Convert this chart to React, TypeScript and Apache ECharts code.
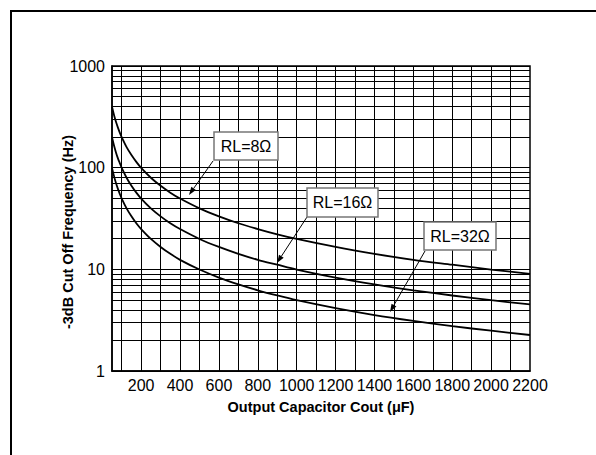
import React, { useEffect, useRef } from "react";
import * as echarts from "echarts";

const capacitance = [50, 60, 70, 80, 90, 100, 125, 150, 175, 200, 250, 300, 350, 400, 500, 600, 700, 800, 900, 1000, 1200, 1400, 1600, 1800, 2000, 2200];
const rl8 = [398, 332, 284, 249, 221, 199, 159, 133, 114, 99.5, 79.6, 66.3, 56.8, 49.7, 39.8, 33.2, 28.4, 24.9, 22.1, 19.9, 16.6, 14.2, 12.4, 11.1, 9.95, 9.04];
const rl16 = [199, 166, 142, 124, 111, 99.5, 79.6, 66.3, 56.8, 49.7, 39.8, 33.2, 28.4, 24.9, 19.9, 16.6, 14.2, 12.4, 11.1, 9.95, 8.29, 7.11, 6.22, 5.53, 4.97, 4.52];
const rl32 = [99.5, 83, 71, 62.2, 55.3, 49.7, 39.8, 33.2, 28.4, 24.9, 19.9, 16.6, 14.2, 12.4, 9.95, 8.29, 7.11, 6.22, 5.53, 4.97, 4.15, 3.55, 3.11, 2.76, 2.49, 2.26];
const xLabelValues = [200, 400, 600, 800, 1000, 1200, 1400, 1600, 1800, 2000, 2200];
const xGridValues = [100, 200, 300, 400, 500, 600, 700, 800, 900, 1000, 1100, 1200, 1300, 1400, 1500, 1600, 1700, 1800, 1900, 2000, 2100];
const yMinorValues = [2, 3, 4, 5, 6, 7, 8, 9, 20, 30, 40, 50, 60, 70, 80, 90, 200, 300, 400, 500, 600, 700, 800, 900];
const curveLabels = ["RL=8Ω", "RL=16Ω", "RL=32Ω"];
const xTitle = "Output Capacitor Cout (μF)";
const yTitle = "-3dB Cut Off Frequency (Hz)";

const FONT = "'Liberation Sans', Arial, sans-serif";

function arrow(x1: number, y1: number, x2: number, y2: number) {
  const dx = x2 - x1, dy = y2 - y1;
  const L = Math.hypot(dx, dy);
  const ux = dx / L, uy = dy / L;
  const hl = 8, hw = 2.8;
  const bx = x2 - ux * hl, by = y2 - uy * hl;
  const nx = -uy, ny = ux;
  return [
    { type: "line", shape: { x1, y1, x2: bx, y2: by }, style: { stroke: "#000", lineWidth: 1 }, z: 100 },
    {
      type: "polygon",
      shape: { points: [[x2, y2], [bx + nx * hw, by + ny * hw], [bx - nx * hw, by - ny * hw]] },
      style: { fill: "#000" },
      z: 100,
    },
  ];
}

function labelBox(text: string, x: number, y: number, w: number, h: number) {
  return [
    { type: "rect", shape: { x, y, width: w, height: h }, style: { fill: "#fff", stroke: "#777", lineWidth: 1.5 }, z: 100 },
    {
      type: "text",
      x: x + w / 2,
      y: y + h / 2,
      style: { text, fill: "#000", font: `16px ${FONT}`, align: "center", verticalAlign: "middle" },
      z: 101,
    },
  ];
}

export default function App() {
  const ref = useRef<HTMLDivElement>(null);
  useEffect(() => {
    if (!ref.current) return;
    const chart = echarts.init(ref.current, undefined, { renderer: "svg" });
    const mk = (ys: number[]) => capacitance.map((c, i) => [c, ys[i]]);
    const curveStyle = { color: "#000", width: 1.8 };
    chart.setOption({
      animation: false,
      backgroundColor: "#fff",
      textStyle: { fontFamily: FONT },
      grid: { left: 112, top: 66, width: 418, height: 305, show: true, borderColor: "#000", borderWidth: 1.5, backgroundColor: "transparent" },
      xAxis: {
        type: "value",
        min: 50,
        max: 2200,
        axisLine: { show: true, lineStyle: { color: "#000", width: 1.5 } },
        axisTick: { show: false },
        splitLine: { show: false },
        axisLabel: { customValues: xLabelValues, color: "#000", fontSize: 16, fontFamily: FONT, margin: 6, formatter: (v: number) => String(v) },
        name: xTitle,
        nameLocation: "middle",
        nameGap: 28,
        nameMoveOverlap: false,
        nameTextStyle: { color: "#000", fontSize: 14.5, fontWeight: "bold", fontFamily: FONT },
      },
      yAxis: {
        type: "log",
        logBase: 10,
        min: 1,
        max: 1000,
        axisLine: { show: true, lineStyle: { color: "#000", width: 1.5 } },
        axisTick: { show: false },
        splitLine: { show: true, lineStyle: { color: "#000", width: 1 } },
        axisLabel: { color: "#000", fontSize: 16, fontFamily: FONT, margin: 7, formatter: (v: number) => String(Math.round(v)) },
      },
      series: [
        {
          type: "line",
          name: "grid",
          data: [],
          silent: true,
          markLine: {
            silent: true,
            symbol: "none",
            label: { show: false },
            lineStyle: { color: "#000", width: 1, type: "solid" },
            data: [
              ...yMinorValues.map((v) => ({ yAxis: v })),
              ...xGridValues.map((v) => ({ xAxis: v })),
            ],
          },
        },
        { type: "line", name: curveLabels[0], data: mk(rl8), showSymbol: false, smooth: 0.3, lineStyle: curveStyle, z: 5 },
        { type: "line", name: curveLabels[1], data: mk(rl16), showSymbol: false, smooth: 0.3, lineStyle: curveStyle, z: 5 },
        { type: "line", name: curveLabels[2], data: mk(rl32), showSymbol: false, smooth: 0.3, lineStyle: curveStyle, z: 5 },
      ],
      graphic: [
        { type: "rect", shape: { x: 11, y: 11, width: 700, height: 600 }, style: { fill: "none", stroke: "#000", lineWidth: 2 } },
        {
          type: "text",
          x: 68,
          y: 232,
          rotation: Math.PI / 2,
          style: { text: yTitle, fill: "#000", font: `bold 14.5px ${FONT}`, align: "center", verticalAlign: "middle" },
        },
        ...arrow(213, 161, 189, 195),
        ...arrow(307, 217, 277, 263),
        ...arrow(425, 251, 390, 312),
        ...labelBox(curveLabels[0], 214, 132, 64, 28),
        ...labelBox(curveLabels[1], 307, 188, 71, 29),
        ...labelBox(curveLabels[2], 424, 222, 72, 28),
      ],
    });
    return () => chart.dispose();
  }, []);
  return <div ref={ref} style={{ position: "absolute", left: 0, top: 0, width: 596, height: 455 }} />;
}
